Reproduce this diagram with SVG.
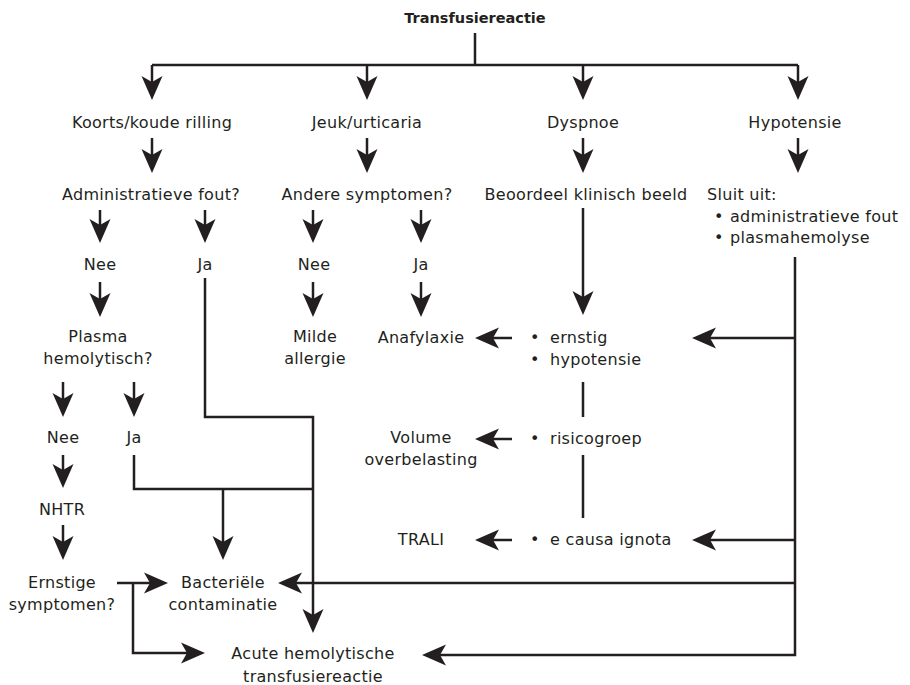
<svg xmlns="http://www.w3.org/2000/svg" width="910" height="685" viewBox="0 0 910 685">
<defs>
<marker id="ah" viewBox="0 -11 24 22" refX="18" refY="0" markerWidth="24" markerHeight="22" markerUnits="userSpaceOnUse" orient="auto">
<path d="M0,-10.5 L24,0 L0,10.5 L6,0 Z" fill="#231f20"/>
</marker>
<style>
text{font-family:"DejaVu Sans",sans-serif;font-size:16px;letter-spacing:0.3px;fill:#231f20}
.c{text-anchor:middle}
.t{font-weight:bold;font-size:14.5px;letter-spacing:0}
.ln{fill:none;stroke:#231f20;stroke-width:2.5}
.ar{marker-end:url(#ah)}
</style>
</defs>
<rect width="910" height="685" fill="#fff"/>
<g id="connectors">
<path class="ln" d="M475,33V65M152,65H798"/>
<path class="ln ar" d="M152,65V94"/>
<path class="ln ar" d="M367,65V94"/>
<path class="ln ar" d="M583,65V94"/>
<path class="ln ar" d="M798,65V94"/>
<path class="ln ar" d="M152,138V167"/>
<path class="ln ar" d="M367,138V167"/>
<path class="ln ar" d="M583,138V167"/>
<path class="ln ar" d="M798,138V167"/>
<path class="ln ar" d="M100,210V237"/>
<path class="ln ar" d="M205,210V237"/>
<path class="ln ar" d="M313,210V237"/>
<path class="ln ar" d="M421,210V237"/>
<path class="ln ar" d="M100,282V311"/>
<path class="ln ar" d="M313,282V311"/>
<path class="ln ar" d="M421,282V311"/>
<path class="ln ar" d="M205,278V417H313V627"/>
<path class="ln ar" d="M63,382V411"/>
<path class="ln ar" d="M134,382V411"/>
<path class="ln" d="M134,455V489H313"/>
<path class="ln ar" d="M223,489V554"/>
<path class="ln ar" d="M63,455V482"/>
<path class="ln ar" d="M63,525V554"/>
<path class="ln ar" d="M117,583H162"/>
<path class="ln ar" d="M133,583V653H199"/>
<path class="ln ar" d="M583,208V309"/>
<path class="ln" d="M583,382V417M583,455V518"/>
<path class="ln ar" d="M512,338H481"/>
<path class="ln ar" d="M512,439H481"/>
<path class="ln ar" d="M512,540H481"/>
<path class="ln ar" d="M795,257V655H428"/>
<path class="ln ar" d="M795,338H698"/>
<path class="ln ar" d="M795,540H698"/>
<path class="ln ar" d="M795,583H284"/>
</g>
<g id="n-title"><text class="c t" x="475" y="23">Transfusiereactie</text></g>
<g id="n-koorts"><text class="c" x="152" y="128">Koorts/koude rilling</text></g>
<g id="n-jeuk"><text class="c" x="367" y="128">Jeuk/urticaria</text></g>
<g id="n-dyspnoe"><text class="c" x="583" y="128">Dyspnoe</text></g>
<g id="n-hypotensie"><text class="c" x="795" y="128">Hypotensie</text></g>
<g id="n-admin"><text class="c" x="151" y="200">Administratieve fout?</text></g>
<g id="n-andere"><text class="c" x="367" y="200">Andere symptomen?</text></g>
<g id="n-beoordeel"><text class="c" x="586" y="200">Beoordeel klinisch beeld</text></g>
<g id="n-sluit">
<text x="707" y="200">Sluit uit:</text>
<text x="714" y="222">•</text><text x="730" y="222">administratieve fout</text>
<text x="714" y="243">•</text><text x="730" y="243">plasmahemolyse</text>
</g>
<g id="n-nee1"><text class="c" x="100" y="270">Nee</text></g>
<g id="n-ja1"><text class="c" x="205" y="270">Ja</text></g>
<g id="n-nee2"><text class="c" x="314" y="270">Nee</text></g>
<g id="n-ja2"><text class="c" x="421" y="270">Ja</text></g>
<g id="n-plasma"><text class="c" x="98" y="342">Plasma</text><text class="c" x="98" y="364">hemolytisch?</text></g>
<g id="n-milde"><text class="c" x="315" y="342">Milde</text><text class="c" x="315" y="364">allergie</text></g>
<g id="n-anafylaxie"><text class="c" x="421" y="343">Anafylaxie</text></g>
<g id="n-ernstig">
<text x="530" y="343">•</text><text x="550" y="343">ernstig</text>
<text x="530" y="365">•</text><text x="550" y="365">hypotensie</text>
</g>
<g id="n-nee3"><text class="c" x="63" y="443">Nee</text></g>
<g id="n-ja3"><text class="c" x="134" y="443">Ja</text></g>
<g id="n-volume"><text class="c" x="421" y="443">Volume</text><text class="c" x="421" y="465">overbelasting</text></g>
<g id="n-risico"><text x="530" y="444">•</text><text x="550" y="444">risicogroep</text></g>
<g id="n-nhtr"><text class="c" x="62" y="515">NHTR</text></g>
<g id="n-trali"><text class="c" x="421" y="545">TRALI</text></g>
<g id="n-causa"><text x="530" y="545">•</text><text x="550" y="545">e causa ignota</text></g>
<g id="n-ernstige"><text class="c" x="62" y="588">Ernstige</text><text class="c" x="62" y="610">symptomen?</text></g>
<g id="n-bacterieel"><text class="c" x="223" y="588">Bacteriële</text><text class="c" x="223" y="610">contaminatie</text></g>
<g id="n-acute"><text class="c" x="313" y="659">Acute hemolytische</text><text class="c" x="313" y="682">transfusiereactie</text></g>
</svg>
